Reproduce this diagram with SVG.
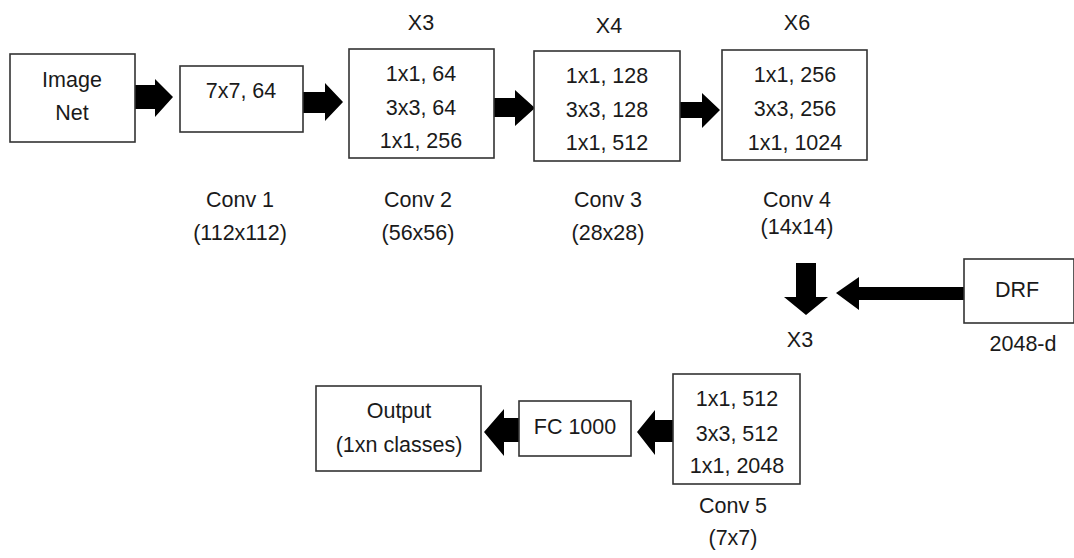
<svg xmlns="http://www.w3.org/2000/svg" width="1074" height="558" viewBox="0 0 1074 558">
<style>
.box{fill:#fff;stroke:#333;stroke-width:1.6}
.t{font-family:"Liberation Sans",Arial,sans-serif;font-size:21.5px;fill:#1a1a1a;text-anchor:middle}
.arr{fill:#000}
</style>
<rect width="1074" height="558" fill="#fff"/>
<g id="connectors">
<polygon class="arr" points="135,85 155,85 155,79 173,97 155,117 155,109 135,109"/>
<polygon class="arr" points="303,92 325,92 325,83 343,102 325,121 325,113 303,113"/>
<polygon class="arr" points="494,98 515,98 515,90 535,108 515,126 515,117 494,117"/>
<polygon class="arr" points="680,102 702,102 702,93 720,110 702,128 702,118 680,118"/>
<polygon class="arr" points="796,263 816,263 816,297 828,297 806,315 784,297 796,297"/>
<polygon class="arr" points="964,287 859,287 859,277 836,293 859,310 859,300 964,300"/>
<polygon class="arr" points="673,420 655,420 655,410 637,432 655,455 655,442 673,442"/>
<polygon class="arr" points="519,418 504,418 504,409 484,432 504,456 504,442 519,442"/>
</g>
<g id="imagenet">
<rect class="box" x="10" y="54" width="125" height="88"/>
<text class="t" x="72" y="87">Image</text>
<text class="t" x="72" y="120">Net</text>
</g>
<g id="conv1">
<rect class="box" x="180" y="66" width="123" height="66"/>
<text class="t" x="241" y="98">7x7, 64</text>
<text class="t" x="240" y="207">Conv 1</text>
<text class="t" x="240" y="240">(112x112)</text>
</g>
<g id="conv2">
<text class="t" x="421" y="30">X3</text>
<rect class="box" x="349" y="49" width="145" height="109"/>
<text class="t" x="421" y="81">1x1, 64</text>
<text class="t" x="421" y="115">3x3, 64</text>
<text class="t" x="421" y="148">1x1, 256</text>
<text class="t" x="418" y="207">Conv 2</text>
<text class="t" x="418" y="240">(56x56)</text>
</g>
<g id="conv3">
<text class="t" x="609" y="33">X4</text>
<rect class="box" x="534" y="51" width="146" height="110"/>
<text class="t" x="607" y="83">1x1, 128</text>
<text class="t" x="607" y="117">3x3, 128</text>
<text class="t" x="607" y="150">1x1, 512</text>
<text class="t" x="608" y="207">Conv 3</text>
<text class="t" x="608" y="240">(28x28)</text>
</g>
<g id="conv4">
<text class="t" x="797" y="30">X6</text>
<rect class="box" x="722" y="50" width="145" height="110"/>
<text class="t" x="795" y="82">1x1, 256</text>
<text class="t" x="795" y="116">3x3, 256</text>
<text class="t" x="795" y="150">1x1, 1024</text>
<text class="t" x="797" y="207">Conv 4</text>
<text class="t" x="797" y="234">(14x14)</text>
</g>
<g id="drf">
<rect class="box" x="964" y="259" width="110" height="64"/>
<text class="t" x="1017" y="297">DRF</text>
<text class="t" x="1023" y="351">2048-d</text>
</g>
<g id="conv5">
<text class="t" x="800" y="347">X3</text>
<rect class="box" x="673" y="374" width="127" height="110"/>
<text class="t" x="737" y="406">1x1, 512</text>
<text class="t" x="737" y="441">3x3, 512</text>
<text class="t" x="737" y="473">1x1, 2048</text>
<text class="t" x="733" y="513">Conv 5</text>
<text class="t" x="733" y="545">(7x7)</text>
</g>
<g id="fc">
<rect class="box" x="519" y="401" width="112" height="55"/>
<text class="t" x="575" y="434">FC 1000</text>
</g>
<g id="output">
<rect class="box" x="316" y="386" width="165" height="85"/>
<text class="t" x="399" y="418">Output</text>
<text class="t" x="399" y="452">(1xn classes)</text>
</g>
</svg>
